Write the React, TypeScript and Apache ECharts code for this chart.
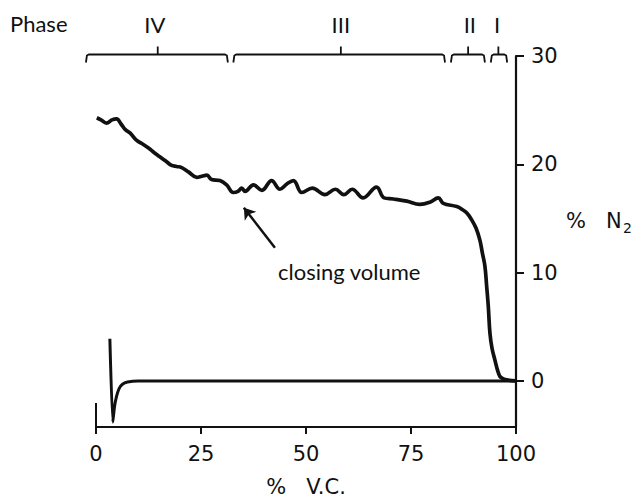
import React, { useEffect, useRef } from "react";
import * as echarts from "echarts";

// % vital capacity (x) and % N2 (y) of the single-breath nitrogen washout trace
const vcPercent = [
  0.2, 1.2, 2.5, 3.8, 4.9, 6.0, 7.0, 8.1, 9.7, 11.0, 12.5, 13.8, 15.2, 16.6, 18.0, 19.2,
  20.4, 22.0, 24.0, 25.2, 26.4, 27.5, 29.5, 31.1, 32.7, 33.8, 34.7, 35.5, 37.5, 39.5,
  41.8, 43.8, 45.5, 47.0, 49.0, 51.5, 54.5, 57.0, 59.0, 61.0, 63.6, 66.8, 68.6, 70.8,
  74.0, 77.1, 79.5, 81.5, 82.7, 85.9, 87.3, 88.3, 89.4, 90.5, 91.4, 92.0, 92.6, 93.0,
  93.4, 93.8, 94.3, 95.0, 95.6, 96.2, 97.0, 97.8, 100,
];
const n2Percent = [
  24.3, 24.1, 23.8, 24.1, 24.2, 23.7, 23.2, 22.9, 22.2, 21.9, 21.5, 21.1, 20.7, 20.3, 19.9, 19.8,
  19.7, 19.3, 18.8, 18.9, 19.0, 18.6, 18.5, 18.1, 17.4, 17.5, 17.8, 17.5, 18.1, 17.6,
  18.5, 17.7, 18.2, 18.5, 17.4, 17.8, 17.2, 17.7, 17.2, 17.7, 16.9, 17.9, 16.9, 16.8,
  16.6, 16.3, 16.5, 16.9, 16.4, 16.1, 15.8, 15.5, 14.9, 14.1, 13.0, 11.8, 10.6, 8.8,
  6.9, 4.4, 3.0, 1.9, 1.0, 0.4, 0.2, 0.1, 0,
];

// baseline (inspiration) trace with the spike near the start
const baseX = [3.3, 4.0, 4.4, 4.9, 5.5, 6.3, 7.5, 10, 100];
const baseY = [3.9, -3.8, -2.4, -1.4, -0.7, -0.3, -0.1, 0, 0];

// short stub of the axis at x = 0
const stubX = [0, 0];
const stubY = [-2.03, -4.25];

const xTickValues = [0, 25, 50, 75, 100];
const yTickValues = [0, 10, 20, 30];

const phaseNames = ["IV", "III", "II", "I"];
const phaseStart = [-2.4, 32.7, 84.5, 94.0];
const phaseEnd = [31.4, 83.1, 92.6, 97.9];
const phaseMid = [14.7, 58.3, 88.6, 95.8];
const phaseLabelX = [14.0, 58.3, 89.0, 95.5];

const arrowFrom = [42.6, 12.3];
const arrowTo = [35.2, 16.0];

const INK = "#111";
const NUM_FONT = "DejaVu Sans";
const TEXT_FONT = "Lato";

export default function App() {
  const ref = useRef<HTMLDivElement>(null);

  useEffect(() => {
    if (!ref.current) return;
    const chart = echarts.init(ref.current, undefined, { renderer: "svg" });

    const phaseData = phaseNames.map((_, i) => [phaseStart[i], phaseEnd[i], phaseMid[i], phaseLabelX[i]]);

    const option: any = {
      animation: false,
      backgroundColor: "#fff",
      grid: { left: 96, right: 120, top: 56, bottom: 71, containLabel: false },
      xAxis: {
        type: "value",
        min: 0,
        max: 100,
        interval: 25,
        position: "bottom",
        axisLine: { show: true, onZero: false, lineStyle: { color: INK, width: 2 } },
        axisTick: { show: true, length: 7, lineStyle: { color: INK, width: 2 } },
        axisLabel: { margin: 16, fontFamily: NUM_FONT, fontSize: 21, color: INK, customValues: xTickValues },
        splitLine: { show: false },
      },
      yAxis: {
        type: "value",
        position: "right",
        min: -4.25,
        max: 30,
        axisLine: { show: true, onZero: false, lineStyle: { color: INK, width: 2.2 } },
        axisTick: { show: true, length: 8, lineStyle: { color: INK, width: 2 }, customValues: yTickValues },
        axisLabel: { margin: 15, fontFamily: NUM_FONT, fontSize: 21, color: INK, customValues: yTickValues },
        splitLine: { show: false },
      },
      series: [
        {
          type: "line",
          data: vcPercent.map((x, i) => [x, n2Percent[i]]),
          showSymbol: false,
          smooth: 0.4,
          lineStyle: { color: INK, width: 3.7 },
          silent: true,
          markLine: {
            silent: true,
            symbol: ["none", "arrow"],
            symbolSize: 11,
            label: { show: false },
            lineStyle: { color: INK, width: 2.5, type: "solid" },
            data: [[{ coord: arrowFrom }, { coord: arrowTo }]],
          },
        },
        {
          type: "line",
          data: baseX.map((x, i) => [x, baseY[i]]),
          showSymbol: false,
          smooth: 0.2,
          lineStyle: { color: INK, width: 3 },
          silent: true,
        },
        {
          type: "line",
          data: stubX.map((x, i) => [x, stubY[i]]),
          showSymbol: false,
          lineStyle: { color: INK, width: 2 },
          silent: true,
        },
        {
          type: "custom",
          clip: false,
          silent: true,
          data: phaseData,
          encode: { x: [0, 1, 2, 3] },
          renderItem: (params: any, api: any) => {
            const s = api.coord([api.value(0), 30])[0];
            const e = api.coord([api.value(1), 30])[0];
            const c = api.coord([api.value(2), 30])[0];
            const lx = api.coord([api.value(3), 30])[0];
            const top = api.coord([0, 30])[1];
            const hy = top - 1.5;
            return {
              type: "group",
              children: [
                {
                  type: "polyline",
                  shape: { points: [[s, hy + 8], [s + 1, hy + 1], [s + 3, hy], [e - 3, hy], [e - 1, hy + 1], [e, hy + 8]] },
                  style: { stroke: INK, fill: "none", lineWidth: 1.8 },
                },
                {
                  type: "line",
                  shape: { x1: c, y1: hy, x2: c, y2: hy - 8 },
                  style: { stroke: INK, lineWidth: 1.8 },
                },
                {
                  type: "text",
                  style: {
                    text: phaseNames[params.dataIndex],
                    x: lx,
                    y: 24,
                    align: "center",
                    verticalAlign: "middle",
                    fontFamily: TEXT_FONT,
                    fontSize: 22,
                    fill: INK,
                  },
                },
              ],
            };
          },
        },
      ],
      graphic: [
        {
          type: "text",
          left: 10,
          top: 12,
          style: { text: "Phase", fontFamily: TEXT_FONT, fontSize: 22, fill: INK },
        },
        {
          type: "text",
          x: 278,
          y: 271,
          style: { text: "closing volume", fontFamily: TEXT_FONT, fontSize: 22, fill: INK, verticalAlign: "middle" },
        },
        {
          type: "text",
          x: 306,
          y: 487,
          style: { text: "%   V.C.", fontFamily: NUM_FONT, fontSize: 21, fill: INK, align: "center", verticalAlign: "middle" },
        },
        {
          type: "text",
          x: 566,
          y: 221,
          style: { text: "%   N", fontFamily: NUM_FONT, fontSize: 21, fill: INK, verticalAlign: "middle" },
        },
        {
          type: "text",
          x: 623,
          y: 228,
          style: { text: "2", fontFamily: NUM_FONT, fontSize: 14, fill: INK, verticalAlign: "middle" },
        },
      ],
    };

    chart.setOption(option);
    return () => chart.dispose();
  }, []);

  return (
    <div
      ref={ref}
      style={{ position: "fixed", left: 0, top: 0, width: 636, height: 498, background: "#fff" }}
    />
  );
}
